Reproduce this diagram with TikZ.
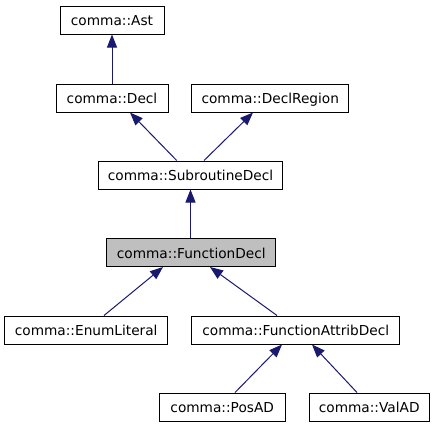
\documentclass[tikz,border=0pt]{standalone}
\usepackage{fontspec}
\setmainfont{DejaVu Sans}
\usetikzlibrary{arrows.meta}
\definecolor{edgeblue}{HTML}{191970}
\definecolor{curgray}{HTML}{BFBFBF}
\tikzset{
  cls/.style={draw=black, line width=1bp, inner sep=0pt, minimum height=28bp,
    text height=14bp, text depth=2.6bp,
    font=\fontsize{13.7bp}{16bp}\selectfont, fill=white},
  cur/.style={cls, fill=curgray},
  edge/.style={draw=edgeblue, line width=1bp, -{Triangle[length=13bp,width=10bp]}}
}
\begin{document}
\begin{tikzpicture}[x=1bp,y=-1bp]
\useasboundingbox (0,0) rectangle (435,427);
\node[cls, minimum width=104bp] (ast) at (112,20) {comma::Ast};
\node[cls, minimum width=112bp] (decl) at (112,98) {comma::Decl};
\node[cls, minimum width=157.3bp] (declr) at (270.3,98) {comma::DeclRegion};
\node[cls, minimum width=184.4bp] (sub) at (190.5,175) {comma::SubroutineDecl};
\node[cur, minimum width=169.3bp] (fun) at (191.3,252.5) {comma::FunctionDecl};
\node[cls, minimum width=163bp] (enum) at (86.2,330) {comma::EnumLiteral};
\node[cls, minimum width=208.3bp] (fad) at (295.8,330) {comma::FunctionAttribDecl};
\node[cls, minimum width=125.7bp] (pos) at (222.2,407) {comma::PosAD};
\node[cls, minimum width=120.3bp] (val) at (369.2,407) {comma::ValAD};

\draw[edge] (decl.north) -- (ast.south);
\draw[edge] ([xshift=-13.8bp]sub.north) -- ([xshift=18bp]decl.south);
\draw[edge] ([xshift=13.5bp]sub.north) -- ([xshift=-17.3bp]declr.south);
\draw[edge] (sub.south |- fun.north) -- (sub.south);
\draw[edge] ([xshift=17.8bp]enum.north) -- ([xshift=-28.3bp]fun.south);
\draw[edge] ([xshift=-18.8bp]fad.north) -- ([xshift=18.7bp]fun.south);
\draw[edge] ([xshift=12.8bp]pos.north) -- ([xshift=-13.8bp]fad.south);
\draw[edge] ([xshift=-12.2bp]val.north) -- ([xshift=16.2bp]fad.south);
\end{tikzpicture}
\end{document}
